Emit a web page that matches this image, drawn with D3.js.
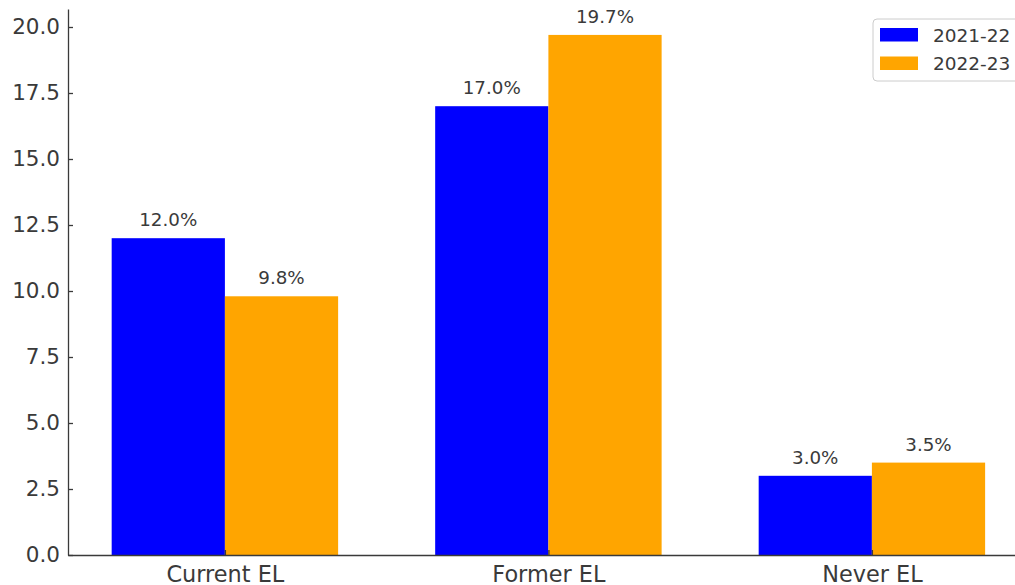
<!DOCTYPE html>
<html>
<head>
<meta charset="utf-8">
<script src="https://cdn.jsdelivr.net/npm/d3@7"></script>
<style>
  html, body { margin: 0; padding: 0; background: #fff; }
  svg { display: block; font-family: "DejaVu Sans", sans-serif; }
</style>
</head>
<body>
<svg id="chart" width="1015" height="585"></svg>
<script>
// Share of students by English-learner status, two school years
const categories = ["Current EL", "Former EL", "Never EL"];
const seriesNames = ["2021-22", "2022-23"];
const values2122 = [12.0, 17.0, 3.0];
const values2223 = [9.8, 19.7, 3.5];
const yTicks = [0, 2.5, 5, 7.5, 10, 12.5, 15, 17.5, 20];
const colors = ["#0000ff", "#ffa500"];

const series = [values2122, values2223];
const barW = 0.35;
const svg = d3.select("#chart");
const textColor = "#3a3a3a";

// Plot frame: left spine and baseline
const left = 68, bottom = 555;
const unit = 323.5; // pixels per category step
const x = d3.scaleLinear()
  .domain([-0.485, 2.485])
  .range([left, left + 2.97 * unit]);
const yMax = d3.max(series.flat()) * 1.05;
const y = d3.scaleLinear().domain([0, yMax]).range([bottom, bottom - yMax * 26.4]);

// Bars
series.forEach((vals, s) => {
  const off = s === 0 ? -barW / 2 : barW / 2;
  svg.append("g").selectAll("rect")
    .data(vals)
    .join("rect")
    .attr("x", (d, i) => x(i + off - barW / 2))
    .attr("width", x(barW) - x(0))
    .attr("y", d => y(d))
    .attr("height", d => y(0) - y(d))
    .attr("fill", colors[s]);

  // Value labels above bars
  svg.append("g").selectAll("text")
    .data(vals)
    .join("text")
    .attr("x", (d, i) => x(i + off))
    .attr("y", d => y(d) - 12)
    .attr("text-anchor", "middle")
    .attr("font-size", 18.3)
    .attr("fill", textColor)
    .text(d => d.toFixed(1) + "%");
});

// Y axis
const yAxis = d3.axisLeft(y)
  .tickValues(yTicks)
  .tickFormat(d3.format(".1f"))
  .tickSizeInner(-5)
  .tickSizeOuter(0)
  .tickPadding(8);
const gy = svg.append("g").attr("transform", `translate(${left},0)`).call(yAxis);
gy.select(".domain").attr("stroke", textColor).attr("stroke-width", 1.3);
gy.selectAll(".tick line").attr("stroke", textColor).attr("stroke-width", 1.3);
gy.selectAll(".tick text")
  .attr("font-size", 21.5)
  .attr("fill", textColor)
  .attr("font-family", "DejaVu Sans")
  .attr("x", -8);

// X axis
const xAxis = d3.axisBottom(x)
  .tickValues(d3.range(categories.length))
  .tickFormat(i => categories[i])
  .tickSizeInner(-5)
  .tickSizeOuter(0)
  .tickPadding(8);
const gx = svg.append("g").attr("transform", `translate(0,${bottom})`).call(xAxis);
gx.select(".domain").attr("stroke", textColor).attr("stroke-width", 1.3);
gx.selectAll(".tick line").attr("stroke", textColor).attr("stroke-width", 1.3);
gx.selectAll(".tick text")
  .attr("font-size", 22.4)
  .attr("fill", textColor)
  .attr("font-family", "DejaVu Sans")
  .attr("y", 6)
  .attr("dy", "0.93em");

// Legend
const lg = svg.append("g").attr("transform", "translate(873,19)");
lg.append("rect")
  .attr("width", 170).attr("height", 62)
  .attr("rx", 4)
  .attr("fill", "rgba(255,255,255,0.8)")
  .attr("stroke", "#ccc");
seriesNames.forEach((name, i) => {
  lg.append("rect")
    .attr("x", 7).attr("y", 9 + i * 28.5)
    .attr("width", 38).attr("height", 13.5)
    .attr("fill", colors[i]);
  lg.append("text")
    .attr("x", 60).attr("y", 16 + i * 28.5)
    .attr("dominant-baseline", "central")
    .attr("font-size", 18.5)
    .attr("fill", textColor)
    .text(name);
});
</script>
</body>
</html>
